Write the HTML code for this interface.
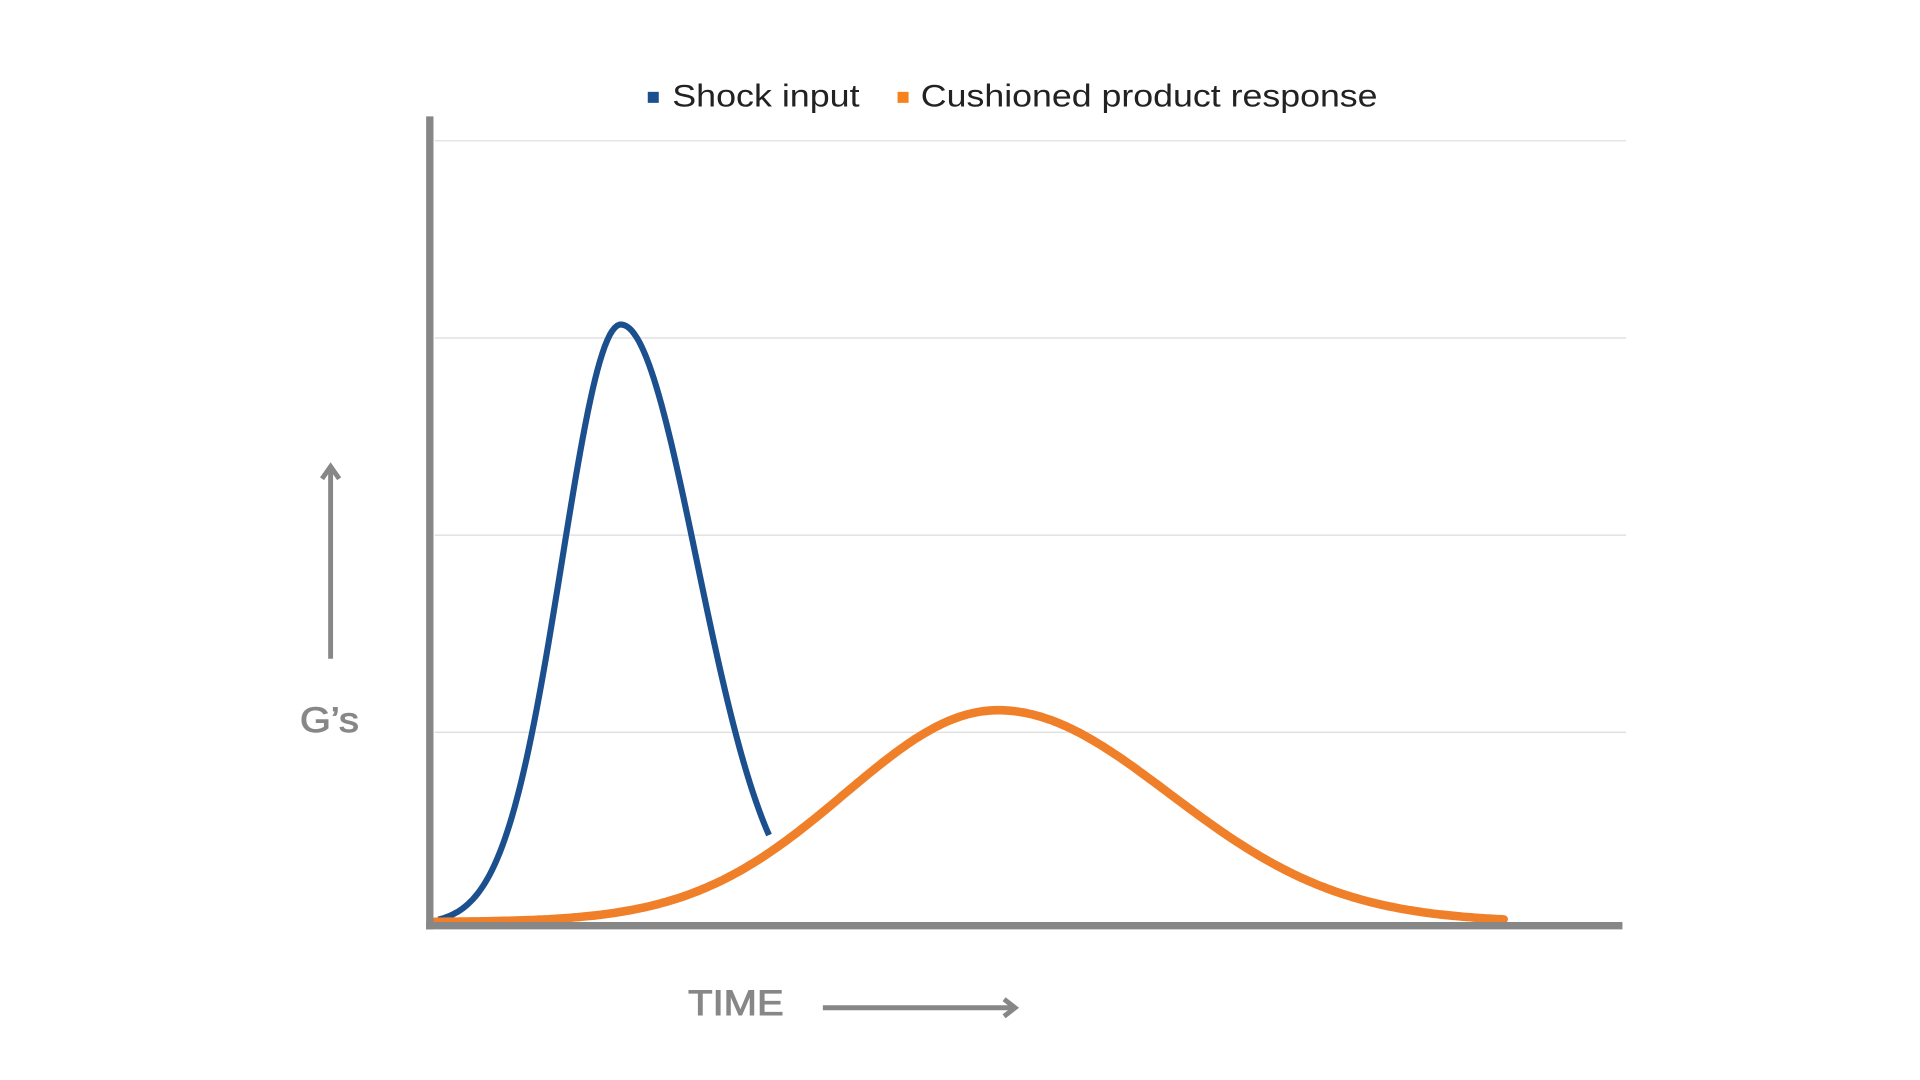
<!DOCTYPE html>
<html><head><meta charset="utf-8"><style>
html,body{margin:0;padding:0;background:#fff;width:1920px;height:1080px;overflow:hidden}
svg{display:block}
text{font-family:"Liberation Sans",sans-serif}
</style></head><body>
<svg id="s" width="1920" height="1080" viewBox="0 0 1568 882" xmlns="http://www.w3.org/2000/svg">
<g stroke="#dcdcdc" stroke-width="1">
<line x1="355" y1="115" x2="1328" y2="115"/>
<line x1="355" y1="276" x2="1328" y2="276"/>
<line x1="355" y1="437" x2="1328" y2="437"/>
<line x1="355" y1="598" x2="1328" y2="598"/>
</g>
<path id="blue" fill="none" stroke="#1b4f8e" stroke-width="5" stroke-linejoin="round"/>
<path id="orange" fill="none" stroke="#f07f2a" stroke-width="7" stroke-linejoin="round" stroke-linecap="round"/>
<line x1="351" y1="95" x2="351" y2="759" stroke="#878787" stroke-width="6"/>
<line x1="348" y1="756" x2="1325" y2="756" stroke="#878787" stroke-width="6"/>
<rect x="529" y="75" width="9" height="9" fill="#1b4f8e"/>
<text x="549" y="87" font-size="26" fill="#222" textLength="153" lengthAdjust="spacingAndGlyphs">Shock input</text>
<rect x="733" y="75" width="9" height="9" fill="#f5821f"/>
<text x="752" y="87" font-size="26" fill="#222" textLength="373" lengthAdjust="spacingAndGlyphs">Cushioned product response</text>
<g stroke="#878787" stroke-width="4" fill="none">
<line x1="270" y1="538" x2="270" y2="383"/>
<polyline points="263,391 270,381 277,391"/>
<line x1="672" y1="823" x2="828" y2="823"/>
<polyline points="820,816 829,823 820,830"/>
</g>
<text x="245" y="598" font-size="29" fill="#878787" stroke="#878787" stroke-width="0.8" textLength="48" lengthAdjust="spacingAndGlyphs">G’s</text>
<text x="562" y="829" font-size="29" fill="#878787" stroke="#878787" stroke-width="0.8" textLength="78" lengthAdjust="spacingAndGlyphs">TIME</text>
</svg>
<script>
function g(x,c,a,sl,sr,pl,pr,base){var s=x<c?sl:sr;var p=x<c?pl:pr;var d=Math.abs(x-c)/s;return base-a*Math.exp(-Math.pow(d,p)/2);}
var p=[];for(var x=358;x<=628;x+=2){p.push((p.length?'L':'M')+x+','+g(x,507,490,48,62,2,2,755).toFixed(1));}
document.getElementById('blue').setAttribute('d',p.join(''));
var q=[];for(var x=355;x<=1230;x+=3){q.push((q.length?'L':'M')+x+','+g(x,815,173,125,140,2,2,753).toFixed(1));}
document.getElementById('orange').setAttribute('d',q.join(''));
</script>
</body></html>
